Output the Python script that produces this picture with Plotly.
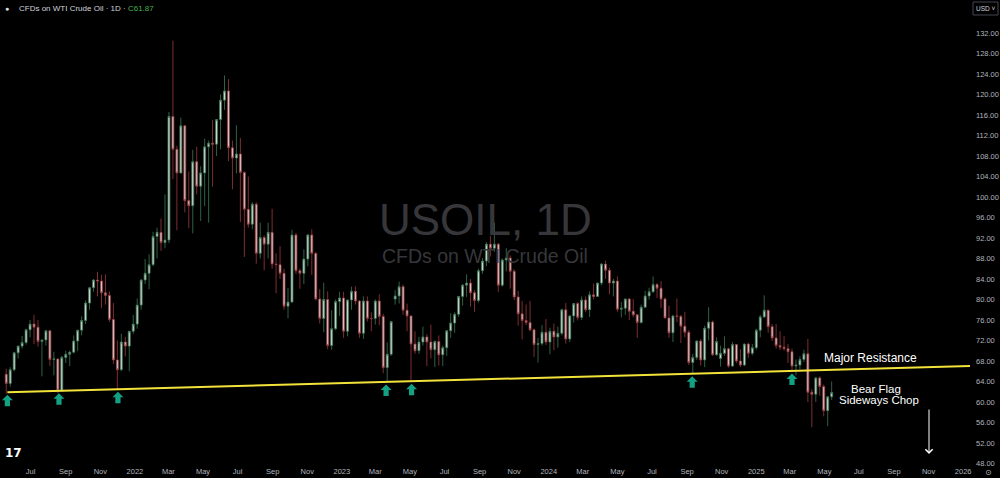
import pandas as pd
import plotly.graph_objects as go

# ---------------- data (weekly OHLC) ----------------
opens = [
    # 2021
    65.4, 63.6, 66.3, 69.6, 70.9, 71.6, 74.1, 75.2, 74.6, 71.8, 72.1, 73.9, 68.3, 68.4, 62.3, 68.7, 69.3,
    69.7, 71.9, 74.0, 75.9, 79.3, 82.3, 83.8, 83.6, 81.3, 80.8, 76.1, 68.2, 66.3, 71.7, 70.9, 73.8,
    # 2022
    75.2, 78.9, 83.8, 85.1, 86.8, 92.3, 93.1, 91.1, 91.6, 115.7, 109.3, 104.7, 113.9, 99.3, 98.3, 106.9,
    102.1, 104.7, 109.8, 110.5, 110.3, 115.1, 118.9, 120.7, 109.6, 107.6, 108.4, 104.8, 97.6, 94.7, 98.6,
    89.0, 92.1, 90.8, 93.1, 86.9, 86.8, 85.1, 78.7, 79.5, 92.6, 85.6, 85.1, 87.9, 92.6, 89.0, 80.1, 76.3,
    80.0, 71.0, 74.3, 79.6,
    # 2023
    80.3, 73.8, 79.9, 81.6, 79.7, 73.4, 79.7, 76.3, 76.3, 79.7, 76.7, 66.7, 69.3, 80.1, 80.7, 82.5, 77.9,
    76.8, 71.3, 70.0, 71.7, 72.7, 71.7, 70.2, 71.8, 69.2, 70.6, 73.9, 75.4, 77.1, 80.6, 82.8, 83.2, 81.3,
    79.8, 85.6, 87.5, 90.8, 90.0, 90.8, 82.8, 87.7, 88.1, 85.5, 80.5, 77.2, 75.9, 75.5, 74.1, 71.2, 71.4,
    73.6,
    # 2024
    71.7, 73.8, 72.7, 73.4, 78.0, 72.3, 76.8, 79.2, 76.5, 79.9, 78.0, 80.9, 80.6, 83.2, 86.9, 85.7, 83.2,
    83.6, 78.1, 78.3, 80.1, 77.7, 77.0, 75.5, 78.5, 80.7, 81.5, 82.9, 82.2, 80.1, 76.4, 73.5, 76.8, 76.7,
    74.8, 73.6, 67.7, 68.7, 71.9, 68.2, 74.4, 75.6, 69.2, 68.5, 69.5, 70.4, 67.0, 71.2, 68.0, 67.2, 71.3,
    69.5, 70.6,
    # 2025
    74.0, 76.6, 77.9, 74.7, 72.5, 71.0, 70.7, 70.4, 69.8, 67.0, 67.2, 68.3, 69.4, 61.9, 61.5, 64.7, 63.0,
    58.3, 61.0,
]
highs = [
    66.5, 66.8, 69.8, 71.0, 72.9, 74.3, 76.0, 77.0, 76.0, 72.2, 74.0, 74.0, 69.8, 68.5, 69.0, 70.0, 70.0,
    73.0, 74.0, 76.7, 79.8, 82.4, 84.0, 85.4, 84.8, 84.9, 81.6, 79.3, 72.0, 73.3, 72.7, 73.8, 77.0,
    80.2, 84.0, 87.9, 88.8, 93.2, 94.0, 95.8, 100.5, 116.6, 130.5, 110.0, 115.5, 114.0, 105.0, 109.2, 109.8,
    106.0, 111.4, 111.0, 115.0, 115.2, 120.0, 123.7, 123.0, 111.0, 114.0, 111.5, 105.0, 104.0, 99.0, 99.0,
    95.0, 92.5, 95.0, 97.7, 89.0, 90.4, 86.0, 82.2, 93.6, 93.0, 86.0, 89.8, 92.8, 93.7, 89.2, 82.0, 83.3,
    81.6, 77.9, 80.0, 81.5,
    81.5, 80.0, 82.5, 82.6, 79.9, 80.6, 80.6, 77.5, 80.0, 81.0, 77.2, 71.6, 75.8, 81.8, 83.5, 82.9, 79.2,
    76.9, 73.8, 72.7, 74.7, 73.2, 75.1, 72.0, 73.0, 71.0, 74.0, 77.3, 77.5, 80.7, 83.0, 84.9, 84.0, 81.8,
    86.0, 88.1, 91.2, 92.4, 95.0, 91.0, 88.0, 90.0, 88.6, 85.9, 81.7, 79.7, 79.0, 79.7, 74.3, 72.5, 75.0,
    76.2,
    74.5, 75.3, 74.7, 78.2, 79.3, 77.0, 79.3, 79.5, 80.6, 80.6, 81.6, 83.1, 83.3, 87.1, 87.6, 86.2, 84.0,
    84.5, 79.5, 80.2, 80.3, 80.1, 77.2, 79.0, 81.7, 82.3, 84.5, 83.2, 83.6, 80.4, 78.8, 77.0, 80.2, 77.0,
    77.6, 74.0, 69.4, 72.0, 72.3, 74.9, 78.5, 75.9, 72.6, 71.0, 72.8, 70.6, 71.7, 71.3, 70.3, 71.4, 71.6,
    71.3, 74.3,
    77.0, 80.8, 78.0, 75.2, 75.2, 73.8, 72.9, 71.3, 70.4, 68.3, 68.9, 70.2, 72.3, 62.5, 64.9, 65.0, 63.4,
    61.1, 64.0,
]
lows = [
    61.6, 63.0, 66.0, 68.5, 70.4, 71.2, 72.6, 71.3, 70.8, 65.0, 71.0, 67.0, 65.2, 61.7, 62.0, 67.6, 67.0,
    69.5, 69.9, 73.0, 75.2, 78.0, 81.5, 80.6, 78.3, 79.0, 75.6, 67.4, 62.4, 66.0, 68.9, 66.0, 73.3,
    74.3, 78.0, 83.0, 82.0, 86.5, 88.0, 89.5, 90.0, 91.0, 103.5, 93.5, 104.5, 97.0, 93.9, 92.9, 100.5,
    95.3, 98.2, 95.0, 102.0, 108.0, 109.3, 117.0, 107.0, 101.5, 104.6, 95.1, 88.3, 94.0, 93.7, 87.0,
    88.0, 85.7, 88.0, 86.0, 81.2, 84.0, 78.0, 76.3, 79.3, 85.0, 82.1, 83.0, 86.5, 84.8, 79.8, 75.3, 73.6,
    70.3, 70.2, 74.0, 76.8,
    72.5, 72.8, 78.0, 79.0, 72.5, 72.3, 75.7, 73.8, 75.1, 75.0, 65.6, 64.1, 69.0, 79.0, 79.2, 77.0, 73.8,
    63.9, 69.4, 69.4, 71.0, 67.0, 68.5, 66.8, 67.1, 67.0, 69.0, 72.5, 73.5, 76.6, 78.8, 80.5, 78.6, 77.6,
    79.4, 85.0, 86.5, 88.4, 89.3, 81.5, 82.5, 85.5, 82.1, 79.9, 74.9, 72.2, 75.0, 73.8, 68.8, 67.7, 71.0,
    71.1,
    69.3, 70.1, 70.6, 73.0, 71.4, 71.7, 75.5, 75.9, 76.0, 77.5, 76.6, 80.0, 80.5, 82.8, 84.0, 81.0, 80.6,
    77.6, 76.5, 77.0, 76.0, 76.5, 72.5, 75.3, 78.4, 80.0, 81.3, 80.3, 78.3, 76.3, 72.5, 71.7, 75.6, 71.5,
    72.6, 67.2, 65.6, 68.2, 67.1, 66.8, 72.0, 69.0, 69.0, 66.9, 69.0, 66.7, 66.9, 67.6, 66.8, 67.0, 68.6,
    69.1, 70.2,
    72.6, 76.4, 73.5, 71.9, 70.4, 70.1, 70.0, 67.6, 66.0, 65.2, 66.4, 67.8, 60.0, 55.1, 60.0, 61.2, 57.2,
    55.3, 60.4,
]
closes = [
    63.6, 66.3, 69.6, 70.9, 71.6, 74.1, 75.2, 74.6, 71.8, 72.1, 73.9, 68.3, 68.4, 62.3, 68.7, 69.3, 69.7,
    71.9, 74.0, 75.9, 79.3, 82.3, 83.8, 83.6, 81.3, 80.8, 76.1, 68.2, 66.3, 71.7, 70.9, 73.8, 75.2,
    78.9, 83.8, 85.1, 86.8, 92.3, 93.1, 91.1, 91.6, 115.7, 109.3, 104.7, 113.9, 99.3, 98.3, 106.9, 102.1,
    104.7, 109.8, 110.5, 110.3, 115.1, 118.9, 120.7, 109.6, 107.6, 108.4, 104.8, 97.6, 94.7, 98.6, 89.0,
    92.1, 90.8, 93.1, 86.9, 86.8, 85.1, 78.7, 79.5, 92.6, 85.6, 85.1, 87.9, 92.6, 89.0, 80.1, 76.3, 80.0,
    71.0, 74.3, 79.6, 80.3,
    73.8, 79.9, 81.6, 79.7, 73.4, 79.7, 76.3, 76.3, 79.7, 76.7, 66.7, 69.3, 75.7, 80.7, 82.5, 77.9, 76.8,
    71.3, 70.0, 71.7, 72.7, 71.7, 70.2, 71.8, 69.2, 70.6, 73.9, 75.4, 77.1, 80.6, 82.8, 83.2, 81.3, 79.8,
    85.6, 87.5, 90.8, 90.0, 90.8, 82.8, 87.7, 88.1, 85.5, 80.5, 77.2, 75.9, 75.5, 74.1, 71.2, 71.4, 73.6,
    71.7,
    73.8, 72.7, 73.4, 78.0, 72.3, 76.8, 79.2, 76.5, 79.9, 78.0, 80.9, 80.6, 83.2, 86.9, 85.7, 83.2, 83.6,
    78.1, 78.3, 80.1, 77.7, 77.0, 75.5, 78.5, 80.7, 81.5, 82.9, 82.2, 80.1, 76.4, 73.5, 76.8, 76.7, 74.8,
    73.6, 67.7, 68.7, 71.9, 68.2, 74.4, 75.6, 69.2, 71.8, 69.5, 70.4, 67.0, 71.2, 68.0, 67.2, 71.3, 69.5,
    70.6, 74.0,
    76.6, 77.9, 74.7, 72.5, 71.0, 70.7, 70.4, 69.8, 67.0, 67.2, 68.3, 69.4, 61.9, 61.5, 64.7, 63.0, 58.3,
    61.0, 61.87,
]
first_week = "2021-05-19"          # mid-week of the first weekly candle

tick_labels = ["Jul", "Sep", "Nov", "2022", "Mar", "May", "Jul", "Sep", "Nov", "2023", "Mar", "May",
               "Jul", "Sep", "Nov", "2024", "Mar", "May", "Jul", "Sep", "Nov", "2025", "Mar", "May",
               "Jul", "Sep", "Nov", "2026"]
price_ticks = list(range(48, 133, 4))

# drawn trend line ("Major Resistance") and the touch points marked with arrows
trend_start = ("2021-05-21", 61.9)
trend_end = ("2026-01-13", 67.0)
touch_dates = ["2021-05-21", "2021-08-20", "2021-12-02", "2023-03-20", "2023-05-04", "2024-09-10", "2025-03-05"]

last_close = "61.87"

# ---------------- figure ----------------
dates = pd.date_range(first_week, periods=len(closes), freq="W-WED")
tick_dates = pd.date_range("2021-07-01", periods=len(tick_labels), freq="2MS")

W, H = 1000, 478
L, R, T, B = 0, 30, 0, 13
PW, PH = W - L - R, H - T - B


def px(x):
    return (x - L) / PW


def py(y):
    return 1 - (y - T) / PH


def label(x, y, text, size, color, family="Liberation Sans", xanchor="center"):
    fig.add_annotation(xref="paper", yref="paper", x=px(x), y=py(y), text=text,
                       xanchor=xanchor, yanchor="middle", showarrow=False,
                       font=dict(size=size, color=color, family=family))


fig = go.Figure()
fig.add_trace(go.Candlestick(
    x=dates, open=opens, high=highs, low=lows, close=closes,
    increasing=dict(line=dict(color="#3b7a55", width=0.8), fillcolor="#d8d8d8"),
    decreasing=dict(line=dict(color="#9e3a3e", width=0.8), fillcolor="#cfcfcf"),
    whiskerwidth=0, hoverinfo="skip", showlegend=False,
))

fig.update_layout(
    width=W, height=H,
    paper_bgcolor="#000000", plot_bgcolor="#000000",
    margin=dict(l=L, r=R, t=T, b=B),
    showlegend=False,
    font=dict(family="Liberation Sans", color="#b2b5be"),
)
fig.update_xaxes(
    type="date", range=["2021-05-08", "2026-01-13"],
    tickvals=list(tick_dates), ticktext=tick_labels,
    tickfont=dict(size=7.5, color="#b2b5be"), ticklabeloverflow="allow",
    showgrid=False, zeroline=False, showline=False, ticks="",
    rangeslider=dict(visible=False), automargin=False,
)
fig.update_yaxes(
    side="right", range=[47.7, 138.44],
    tickvals=price_ticks, tickformat=".2f",
    tickfont=dict(size=7.5, color="#b2b5be"), ticklabeloverflow="allow",
    showgrid=False, zeroline=False, showline=False, ticks="",
    automargin=False, ticklabelstandoff=5,
)

# trend line
fig.add_shape(type="line", xref="x", yref="y",
              x0=trend_start[0], y0=trend_start[1], x1=trend_end[0], y1=trend_end[1],
              line=dict(color="#f3e23a", width=2))

# arrows under the trend line at each touch
t0 = pd.Timestamp(trend_start[0])
t1 = pd.Timestamp(trend_end[0])
arrow_path = "M0,-2.5 L5.5,-8 L2.6,-8 L2.6,-14 L-2.6,-14 L-2.6,-8 L-5.5,-8 Z"
for d in touch_dates:
    frac = (pd.Timestamp(d) - t0) / (t1 - t0)
    yv = trend_start[1] + frac * (trend_end[1] - trend_start[1])
    fig.add_shape(type="path", xref="x", yref="y", xsizemode="pixel", ysizemode="pixel",
                  xanchor=d, yanchor=yv, path=arrow_path,
                  fillcolor="#13a184", line=dict(width=0))

# watermark
label(485, 219, "USOIL, 1D", 44, "#37373b")
label(485, 256, "CFDs on WTI Crude Oil", 19.5, "#37373b")

# header
label(3, 8, "●", 7, "#e0e0e0", xanchor="left")
label(17, 8, ("<span style='color:#d1d4dc'>CFDs on WTI Crude Oil · 1D · </span>"
              "<span style='color:#4caf50'>C" + last_close + "</span>"), 8, "#d1d4dc", xanchor="left")

# text labels
label(870, 358, "Major Resistance", 12, "#ffffff")
label(876, 389, "Bear Flag", 11.5, "#ffffff")
label(879, 399.5, "Sideways Chop", 11.5, "#ffffff")

# down arrow
fig.add_annotation(xref="paper", yref="paper", x=px(929), y=py(454), ax=0, ay=-46,
                   text="", showarrow=True, arrowhead=4, arrowsize=1.4, arrowwidth=1,
                   arrowcolor="#ffffff")

# USD box
fig.add_shape(type="rect", xref="paper", yref="paper", x0=px(973), x1=px(998), y0=py(15), y1=py(2),
              line=dict(color="#434651", width=1), fillcolor="#000000")
label(985.5, 8.5, "USD ˅", 6.5, "#d1d4dc")

# logo + gear
label(13, 453, "<b>17</b>", 12, "#ffffff", family="DejaVu Sans")
label(989, 472, "⊙", 8, "#b2b5be", family="DejaVu Sans")

fig.write_html("out.html", config={"displayModeBar": False},
               post_script="document.body.style.margin='0';document.body.style.background='#000';")
